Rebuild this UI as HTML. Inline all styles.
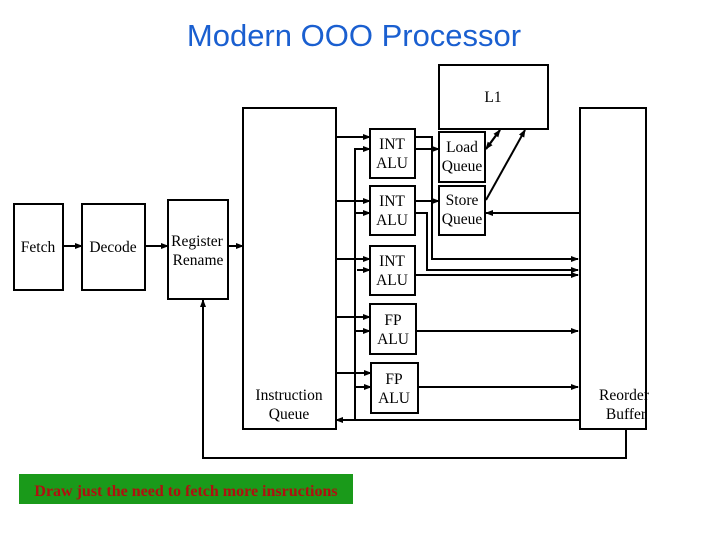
<!DOCTYPE html>
<html><head><style>
html,body{margin:0;padding:0;background:#fff;}
svg{display:block;}
text{font-family:"Liberation Serif",serif;font-size:15.5px;fill:#000;}
</style></head><body>
<svg width="720" height="540" viewBox="0 0 720 540" xmlns="http://www.w3.org/2000/svg">
<defs>
<marker id="a" markerWidth="8" markerHeight="8" refX="7" refY="4" orient="auto" markerUnits="userSpaceOnUse">
<path d="M0,1 L8,4 L0,7 Z" fill="#000"/></marker>
</defs>
<text x="354" y="46" text-anchor="middle" style="font-family:'Liberation Sans',sans-serif;font-size:31px;fill:#1a5fd0">Modern OOO Processor</text>
<g fill="none" stroke="#000" stroke-width="2">
<rect x="14" y="204" width="49" height="86"/>
<rect x="82" y="204" width="63" height="86"/>
<rect x="168" y="200" width="60" height="99"/>
<rect x="243" y="108" width="93" height="321"/>
<rect x="580" y="108" width="66" height="321"/>
<rect x="439" y="65" width="109" height="64"/>
<rect x="370" y="129" width="45" height="49"/>
<rect x="370" y="186" width="45" height="49"/>
<rect x="370" y="246" width="45" height="49"/>
<rect x="370" y="304" width="46" height="50"/>
<rect x="371" y="363" width="47" height="50"/>
<rect x="439" y="132" width="46" height="50"/>
<rect x="439" y="186" width="46" height="49"/>
</g>
<g fill="none" stroke="#000" stroke-width="2">
<line x1="63" y1="246" x2="82" y2="246" marker-end="url(#a)"/>
<line x1="145" y1="246" x2="168" y2="246" marker-end="url(#a)"/>
<line x1="228" y1="246" x2="243" y2="246" marker-end="url(#a)"/>
<line x1="336" y1="137" x2="370" y2="137" marker-end="url(#a)"/>
<line x1="336" y1="201" x2="370" y2="201" marker-end="url(#a)"/>
<line x1="336" y1="259" x2="370" y2="259" marker-end="url(#a)"/>
<line x1="336" y1="317" x2="370" y2="317" marker-end="url(#a)"/>
<line x1="336" y1="373" x2="371" y2="373" marker-end="url(#a)"/>
<polyline points="370,149 355,149 355,420"/>
<line x1="355" y1="149" x2="370" y2="149" marker-end="url(#a)"/>
<line x1="355" y1="213" x2="370" y2="213" marker-end="url(#a)"/>
<line x1="357" y1="270" x2="370" y2="270" marker-end="url(#a)"/>
<line x1="355" y1="331" x2="370" y2="331" marker-end="url(#a)"/>
<line x1="355" y1="387" x2="371" y2="387" marker-end="url(#a)"/>
<line x1="580" y1="420" x2="336" y2="420" marker-end="url(#a)"/>
<line x1="415" y1="149" x2="439" y2="149" marker-end="url(#a)"/>
<line x1="415" y1="201" x2="439" y2="201" marker-end="url(#a)"/>
<polyline points="415,137 432,137 432,259 578,259" marker-end="url(#a)"/>
<polyline points="415,213 427,213 427,270 578,270" marker-end="url(#a)"/>
<line x1="415" y1="275" x2="578" y2="275" marker-end="url(#a)"/>
<line x1="416" y1="331" x2="578" y2="331" marker-end="url(#a)"/>
<line x1="418" y1="387" x2="578" y2="387" marker-end="url(#a)"/>
<line x1="580" y1="213" x2="486" y2="213" marker-end="url(#a)"/>
<line x1="486" y1="149" x2="500" y2="130" marker-end="url(#a)"/>
<line x1="500" y1="130" x2="486" y2="149" marker-end="url(#a)"/>
<line x1="486" y1="200" x2="525" y2="130" marker-end="url(#a)"/>
<polyline points="626,429 626,458 203,458 203,300" marker-end="url(#a)"/>
</g>
<text x="38" y="252" text-anchor="middle">Fetch</text>
<text x="113" y="252" text-anchor="middle">Decode</text>
<text x="197" y="246" text-anchor="middle">Register</text>
<text x="198" y="265" text-anchor="middle">Rename</text>
<text x="289" y="400" text-anchor="middle">Instruction</text>
<text x="289" y="419" text-anchor="middle">Queue</text>
<text x="493" y="102" text-anchor="middle">L1</text>
<text x="392" y="149" text-anchor="middle">INT</text>
<text x="392" y="168" text-anchor="middle">ALU</text>
<text x="392" y="206" text-anchor="middle">INT</text>
<text x="392" y="225" text-anchor="middle">ALU</text>
<text x="392" y="266" text-anchor="middle">INT</text>
<text x="392" y="285" text-anchor="middle">ALU</text>
<text x="393" y="325" text-anchor="middle">FP</text>
<text x="393" y="344" text-anchor="middle">ALU</text>
<text x="394" y="384" text-anchor="middle">FP</text>
<text x="394" y="403" text-anchor="middle">ALU</text>
<text x="462" y="152" text-anchor="middle">Load</text>
<text x="462" y="171" text-anchor="middle">Queue</text>
<text x="462" y="205" text-anchor="middle">Store</text>
<text x="462" y="224" text-anchor="middle">Queue</text>
<text x="624" y="400" text-anchor="middle">Reorder</text>
<text x="626" y="419" text-anchor="middle">Buffer</text>
<rect x="19" y="474" width="334" height="30" fill="#1a9a1a"/>
<text x="186" y="496" text-anchor="middle" style="font-size:16px;font-weight:bold;fill:#b01010">Draw just the need to fetch more insructions</text>
</svg>
</body></html>
